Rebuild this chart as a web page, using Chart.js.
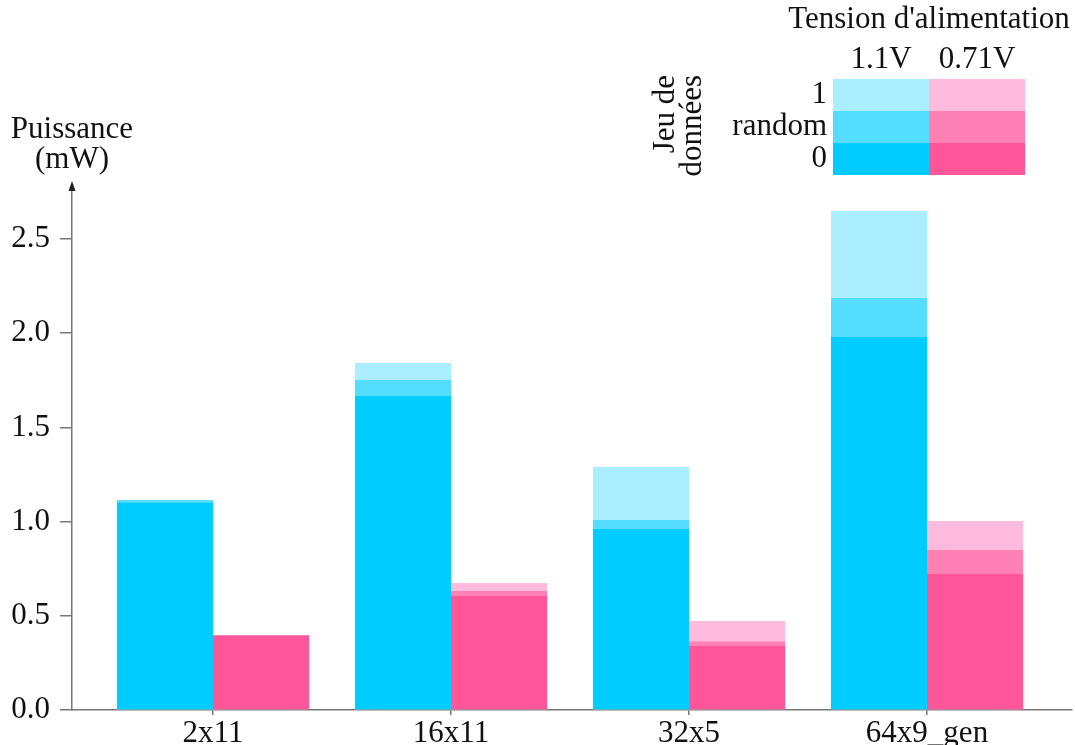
<!DOCTYPE html>
<html>
<head>
<meta charset="utf-8">
<script src="https://cdn.jsdelivr.net/npm/chart.js@4/dist/chart.umd.min.js"></script>
<style>
html,body{margin:0;padding:0;background:#fff;}
#c{display:block;}
</style>
</head>
<body>
<canvas id="c" width="1075" height="745"></canvas>
<script>
// ---- data ----
const categories = ['2x11', '16x11', '32x5', '64x9_gen'];
const yTicks = [0, 0.5, 1.0, 1.5, 2.0, 2.5];
const voltages = ['1.1V', '0.71V'];
const dataSets = ['1', 'random', '0'];
// 1.1V
const v11_zero   = [1.100, 1.667, 0.961, 1.980];
const v11_random = [1.115, 1.752, 1.008, 2.187];
const v11_one    = [1.115, 1.842, 1.290, 2.649];
// 0.71V
const v071_zero   = [0.395, 0.605, 0.340, 0.722];
const v071_random = [0.395, 0.632, 0.363, 0.849];
const v071_one    = [0.395, 0.674, 0.472, 1.003];

const blue = {zero:'#00ccff', random:'#55ddff', one:'#aaeeff'};
const pink = {zero:'#ff5599', random:'#ff80b2', one:'#ffbbdd'};

const FONT = '"Liberation Serif", serif';
const FS = 31;
const TXT = '#111';
const AXIS = '#777';

function pts(arr){ return arr.map((v,i)=>({x:i, y:v})); }
function ds(label, arr, color, stack){
  return {label, data: pts(arr), backgroundColor: color, borderWidth: 0, stack};
}

const legendPlugin = {
  id: 'legendAndDecor',
  afterDraw(chart){
    const ctx = chart.ctx;
    const ca = chart.chartArea;
    ctx.save();
    // arrow on y-axis
    ctx.fillStyle = '#222';
    ctx.beginPath();
    ctx.moveTo(ca.left, ca.top - 4);
    ctx.lineTo(ca.left - 3.5, ca.top + 6);
    ctx.lineTo(ca.left + 3.5, ca.top + 6);
    ctx.closePath();
    ctx.fill();
    // y-axis title
    ctx.fillStyle = TXT;
    ctx.font = FS + 'px ' + FONT;
    ctx.textAlign = 'center';
    ctx.textBaseline = 'middle';
    ctx.fillText('Puissance', ca.left, 130);
    ctx.fillText('(mW)', ca.left, 160);
    // legend grid
    const x0 = 833, cw = 96, y0 = 79, rh = 32;
    const cols = [blue, pink];
    const keys = ['one','random','zero'];
    cols.forEach((pal, c) => {
      keys.forEach((k, r) => {
        ctx.fillStyle = pal[k];
        ctx.fillRect(x0 + c*cw, y0 + r*rh, cw, rh);
      });
    });
    ctx.fillStyle = TXT;
    ctx.textAlign = 'center';
    ctx.fillText('Tension d\'alimentation', 929, 20);
    voltages.forEach((v, c) => ctx.fillText(v, x0 + c*cw + cw/2, 60));
    ctx.textAlign = 'right';
    dataSets.forEach((d, r) => ctx.fillText(d, 827, y0 + r*rh + rh/2));
    // rotated "Jeu de données"
    ctx.save();
    ctx.translate(666, 75);
    ctx.rotate(-Math.PI/2);
    ctx.textAlign = 'right';
    ctx.fillText('Jeu de', 0, 0);
    ctx.fillText('données', 0, 27);
    ctx.restore();
    ctx.restore();
  }
};

const pxPerUnit = 238;
const xMin = -(213 - 72) / pxPerUnit;
const xMax = xMin + 1000 / pxPerUnit;

new Chart(document.getElementById('c'), {
  type: 'bar',
  data: {
    datasets: [
      ds('1.1V 0', v11_zero, blue.zero, 'a'),
      ds('0.71V 0', v071_zero, pink.zero, 'b'),
      ds('1.1V random', v11_random, blue.random, 'a'),
      ds('0.71V random', v071_random, pink.random, 'b'),
      ds('1.1V 1', v11_one, blue.one, 'a'),
      ds('0.71V 1', v071_one, pink.one, 'b')
    ]
  },
  options: {
    responsive: false,
    animation: false,
    categoryPercentage: 0.807,
    barPercentage: 1.0,
    layout: {padding: {top: 185, right: 3, left: 0, bottom: 0}},
    plugins: {legend: {display: false}, tooltip: {enabled: false}},
    scales: {
      x: {
        type: 'linear',
        min: xMin,
        max: xMax,
        offset: false,
        afterBuildTicks: s => { s.ticks = categories.map((c,i)=>({value:i})); },
        afterFit: s => { s.height = 35; },
        ticks: {
          autoSkip: false, maxRotation: 0, padding: 0,
          color: TXT, font: {family: FONT, size: FS},
          callback: v => categories[v]
        },
        grid: {offset: false, drawOnChartArea: false, tickLength: 5, color: AXIS, lineWidth: 1.5},
        border: {color: AXIS, width: 1.5}
      },
      y: {
        type: 'linear',
        stacked: false,
        min: 0,
        max: (710 - 185) / 188.4,
        afterBuildTicks: s => { s.ticks = yTicks.map(v=>({value:v})); },
        afterFit: s => { s.width = 72; },
        ticks: {
          padding: 10, color: TXT, font: {family: FONT, size: FS},
          callback: v => Number(v).toFixed(1)
        },
        grid: {drawOnChartArea: false, tickLength: 12, color: AXIS, lineWidth: 1.5},
        border: {color: AXIS, width: 1.5}
      }
    }
  },
  plugins: [legendPlugin]
});
</script>
</body>
</html>
